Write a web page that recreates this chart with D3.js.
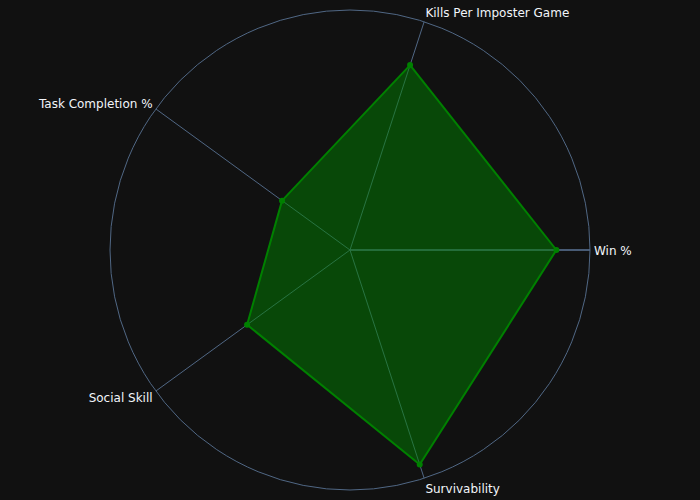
<!DOCTYPE html>
<html>
<head>
<meta charset="utf-8">
<script src="https://cdn.jsdelivr.net/npm/d3@7"></script>
<style>
html,body{margin:0;padding:0;background:#111111;}
svg{display:block;}
</style>
</head>
<body>
<svg id="chart" width="700" height="500"></svg>
<script>
const categories = ["Win %", "Kills Per Imposter Game", "Task Completion %", "Social Skill", "Survivability"];
const values = [86, 81, 35, 53, 94];
const radialRange = [0, 100];

const W = 700, H = 500, cx = 350, cy = 250, R = 240;
const svg = d3.select("#chart");
svg.append("rect").attr("width", W).attr("height", H).attr("fill", "#111111");
const g = svg.append("g").attr("transform", `translate(${cx},${cy})`);

const rScale = d3.scaleLinear().domain(radialRange).range([0, R]);
const aScale = d3.scaleLinear().domain([0, categories.length]).range([0, 2 * Math.PI]);
const px = (a, r) => r * Math.cos(a);
const py = (a, r) => -r * Math.sin(a);

const gridColor = "#506784";
g.append("circle").attr("r", rScale(radialRange[1])).attr("fill", "none")
  .attr("stroke", gridColor).attr("stroke-width", 1);
categories.forEach((c, i) => {
  const a = aScale(i);
  g.append("line").attr("x1", 0).attr("y1", 0)
    .attr("x2", px(a, R)).attr("y2", py(a, R))
    .attr("stroke", gridColor).attr("stroke-width", 1);
});
g.append("line").attr("x1", 0).attr("y1", 0).attr("x2", R).attr("y2", 0)
  .attr("stroke", gridColor).attr("stroke-width", 1.5);

const pts = values.map((v, i) => [px(aScale(i), rScale(v)), py(aScale(i), rScale(v))]);
const line = d3.line().curve(d3.curveLinearClosed);
g.append("path").attr("d", line(pts))
  .attr("fill", "rgba(0,128,0,0.5)")
  .attr("stroke", "#008000").attr("stroke-width", 2).attr("stroke-linejoin", "round");
g.selectAll("circle.pt").data(pts).enter().append("circle").attr("class", "pt")
  .attr("cx", d => d[0]).attr("cy", d => d[1]).attr("r", 3).attr("fill", "#008000");

categories.forEach((c, i) => {
  const a = aScale(i);
  const cs = Math.cos(a), sn = Math.sin(a);
  const x = px(a, R + 4);
  const y = py(a, R + 4) - sn * 6 + 1;
  const anchor = cs > 0.05 ? "start" : (cs < -0.05 ? "end" : "middle");
  g.append("text").attr("x", x).attr("y", y)
    .attr("text-anchor", anchor).attr("dominant-baseline", "central")
    .attr("fill", "#f2f5fa").attr("font-family", "'DejaVu Sans', Verdana, sans-serif")
    .attr("font-size", 12).text(c);
});
</script>
</body>
</html>
